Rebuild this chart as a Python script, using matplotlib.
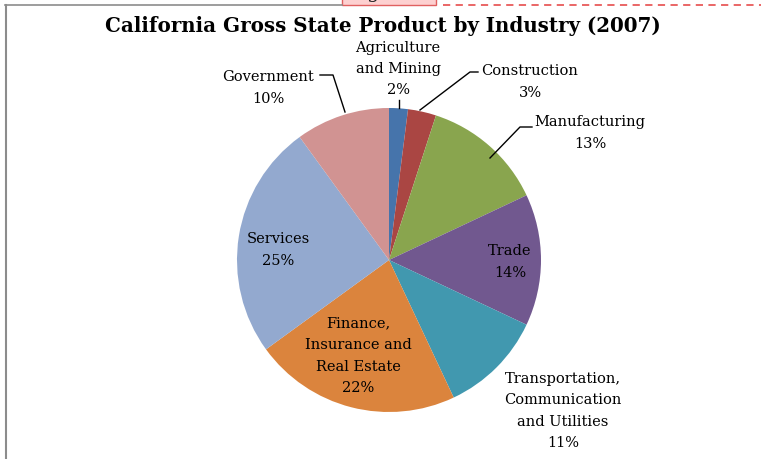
import matplotlib
matplotlib.use("Agg")
import matplotlib.pyplot as plt
from matplotlib.lines import Line2D
from matplotlib.patches import Rectangle

categories = ["Agriculture\nand Mining", "Construction", "Manufacturing", "Trade",
              "Transportation,\nCommunication\nand Utilities",
              "Finance,\nInsurance and\nReal Estate", "Services", "Government"]
values = [2, 3, 13, 14, 11, 22, 25, 10]
colors = ["#4674AB", "#AA4643", "#89A54E", "#71588F", "#4198AF", "#DB843D",
          "#93A9CF", "#D19392"]

W, H = 761, 459
fig = plt.figure(figsize=(W / 100, H / 100), dpi=100)
FONT = "DejaVu Serif"

def fx(px):
    return px / W

def fy(py):
    return 1 - py / H

# pie
cx, cy, r = 389, 260, 152
ax = fig.add_axes([fx(cx - r), fy(cy + r), 2 * r / W, 2 * r / H])
ax.pie(values, colors=colors, startangle=90, counterclock=False, radius=1,
       wedgeprops=dict(linewidth=0))
ax.set_xlim(-1, 1)
ax.set_ylim(-1, 1)
ax.set_aspect("auto")
ax.axis("off")

# frame decorations
fig.add_artist(Line2D([fx(6), fx(6)], [fy(5), fy(459)], color="#8c8c8c", lw=1.5))
fig.add_artist(Line2D([fx(5), fx(342)], [fy(5), fy(5)], color="#8c8c8c", lw=1.2))
fig.add_artist(Rectangle((fx(342), fy(4.5)), fx(436) - fx(342), fy(-2) - fy(4.5),
                         facecolor="#fdd0d0", edgecolor="#e06060", lw=1,
                         transform=fig.transFigure))
fig.text(fx(373), fy(-2), "g", ha="center", va="baseline", fontsize=14,
         family=FONT, color="#222222")
fig.add_artist(Line2D([fx(443), fx(761)], [fy(4.5), fy(4.5)], color="#e85a5a",
                      lw=1.3, ls=(0, (4, 3))))

# title
fig.text(fx(383), fy(26), "California Gross State Product by Industry (2007)",
         ha="center", va="center", fontsize=14.3, fontweight="bold", family=FONT)

def pct(v):
    return f"{v}%"

fs = 10.5
# label positions (pixel layout)
lab = [
    (398, 69, "center"),
    (530, 82, "center"),
    (590, 133, "center"),
    (510, 262, "center"),
    (563, 411, "center"),
    (358, 356, "center"),
    (278, 250, "center"),
    (268, 88, "center"),
]
for (x, y, ha), c, v in zip(lab, categories, values):
    fig.text(fx(x), fy(y), f"{c}\n{pct(v)}", ha=ha, va="center", fontsize=fs,
             family=FONT, linespacing=1.68, color="black")

# leader lines
leaders = [
    [(399, 100), (399, 108)],
    [(420, 110), (470, 72), (478, 72)],
    [(490, 158), (520, 127), (532, 127)],
    [(320, 75), (333, 75), (345, 112)],
]
for pts in leaders:
    xs = [fx(p[0]) for p in pts]
    ys = [fy(p[1]) for p in pts]
    fig.add_artist(Line2D(xs, ys, color="black", lw=1))

fig.savefig("out.png", dpi=100)
